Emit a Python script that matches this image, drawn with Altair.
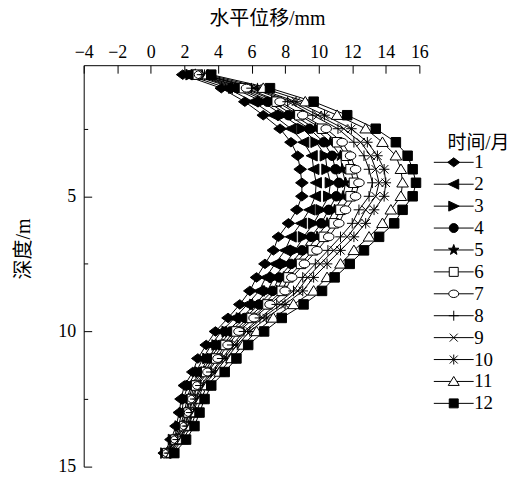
import altair as alt
import pandas as pd

depths = [0.5, 1.0, 1.5, 2.0, 2.5, 3.0, 3.5, 4.0, 4.5, 5.0, 5.5, 6.0, 6.5, 7.0, 7.5,
          8.0, 8.5, 9.0, 9.5, 10.0, 10.5, 11.0, 11.5, 12.0, 12.5, 13.0, 13.5, 14.0, 14.5]

m1 = [1.9, 4.2, 5.6, 6.7, 7.7, 8.35, 8.75, 8.9, 9.0, 9.0, 8.7, 8.2, 7.6, 7.3, 6.8,
      6.3, 5.9, 5.3, 4.6, 3.85, 3.3, 2.8, 2.5, 2.0, 1.8, 1.7, 1.5, 1.2, 0.8]
m2 = [2.15, 4.55, 6.1, 7.3, 8.35, 9.1, 9.6, 9.7, 9.85, 9.8, 9.45, 8.95, 8.35, 8.0, 7.4,
      6.85, 6.45, 5.75, 5.0, 4.2, 3.6, 3.1, 2.7, 2.2, 1.95, 1.85, 1.65, 1.3, 0.85]
m3 = [2.4, 4.95, 6.65, 7.85, 9.05, 9.85, 10.4, 10.5, 10.7, 10.6, 10.15, 9.7, 9.1, 8.6, 8.0,
      7.35, 6.95, 6.2, 5.4, 4.55, 3.95, 3.4, 2.95, 2.4, 2.15, 2.0, 1.75, 1.35, 0.9]
m4 = [2.55, 5.15, 6.95, 8.2, 9.45, 10.3, 10.8, 11.0, 11.2, 11.05, 10.6, 10.15, 9.55, 9.0, 8.35,
      7.65, 7.25, 6.45, 5.6, 4.75, 4.1, 3.55, 3.05, 2.5, 2.25, 2.1, 1.85, 1.4, 0.95]
m5 = [2.65, 5.35, 7.2, 8.5, 9.8, 10.7, 11.3, 11.4, 11.6, 11.45, 10.95, 10.5, 9.9, 9.3, 8.6,
      7.9, 7.5, 6.7, 5.8, 4.95, 4.3, 3.7, 3.2, 2.6, 2.35, 2.15, 1.9, 1.45, 0.97]
m6 = [2.8, 5.55, 7.5, 8.85, 10.2, 11.1, 11.65, 11.9, 12.1, 11.9, 11.3, 10.9, 10.3, 9.65, 8.95,
      8.2, 7.8, 6.95, 6.0, 5.1, 4.45, 3.9, 3.3, 2.7, 2.45, 2.25, 2.0, 1.48, 0.99]
m7 = [2.9, 5.7, 7.7, 9.05, 10.45, 11.4, 11.9, 12.2, 12.4, 12.2, 11.6, 11.2, 10.6, 9.9, 9.15,
      8.4, 8.0, 7.1, 6.15, 5.25, 4.6, 4.0, 3.4, 2.8, 2.5, 2.3, 2.05, 1.5, 1.0]
m8 = [3.05, 6.0, 8.15, 9.65, 11.15, 12.1, 12.7, 13.0, 13.2, 13.0, 12.4, 12.0, 11.3, 10.55, 9.8,
      9.05, 8.5, 7.5, 6.5, 5.55, 4.85, 4.25, 3.6, 2.95, 2.65, 2.4, 2.15, 1.6, 1.08]
m9 = [3.1, 6.15, 8.4, 9.95, 11.5, 12.5, 13.1, 13.4, 13.6, 13.4, 12.8, 12.35, 11.7, 10.9, 10.1,
      9.35, 8.75, 7.75, 6.65, 5.7, 5.0, 4.35, 3.7, 3.05, 2.7, 2.5, 2.2, 1.65, 1.12]
m10 = [3.2, 6.35, 8.65, 10.35, 11.95, 12.9, 13.5, 13.9, 14.0, 13.9, 13.3, 12.8, 12.1, 11.3, 10.5,
       9.7, 9.05, 8.0, 6.9, 5.9, 5.15, 4.5, 3.85, 3.15, 2.8, 2.55, 2.25, 1.75, 1.18]
m11 = [3.4, 6.7, 9.2, 11.1, 12.8, 13.8, 14.6, 14.9, 15.0, 14.9, 14.3, 13.8, 13.0, 12.1, 11.3,
       10.5, 9.7, 8.5, 7.3, 6.3, 5.5, 4.8, 4.1, 3.35, 3.0, 2.7, 2.4, 1.9, 1.25]
m12 = [3.6, 7.1, 9.7, 11.7, 13.4, 14.6, 15.3, 15.6, 15.8, 15.6, 15.0, 14.5, 13.6, 12.7, 11.85,
       10.95, 10.2, 9.1, 7.8, 6.75, 5.8, 5.1, 4.4, 3.6, 3.2, 2.9, 2.6, 2.1, 1.4]

months = [str(i) for i in range(1, 13)]
series = [m1, m2, m3, m4, m5, m6, m7, m8, m9, m10, m11, m12]

x_ticks = [-4, -2, 0, 2, 4, 6, 8, 10, 12, 14, 16]
y_ticks = [5, 10, 15]
y_minor = [2.5, 7.5, 12.5]

rows = []
for mo, vals in zip(months, series):
    for d, v in zip(depths, vals):
        rows.append({"month": mo, "depth": d, "disp": v})
df = pd.DataFrame(rows)

star = "M0,-1.1L0.26,-0.36L1.05,-0.34L0.42,0.14L0.65,0.89L0,0.44L-0.65,0.89L-0.42,0.14L-1.05,-0.34L-0.26,-0.36Z"
marker_paths = [
    "M-1.2,0L0,-0.9L1.2,0L0,0.9Z",
    "M-1.1,0L1,-1L1,1Z",
    "M1.1,0L-1,-1L-1,1Z",
    "M0.9,0A0.9,0.9 0 1,1 -0.9,0A0.9,0.9 0 1,1 0.9,0Z",
    star,
    "M-0.9,-0.9H0.9V0.9H-0.9Z",
    "M1,0A1,0.75 0 1,1 -1,0A1,0.75 0 1,1 1,0Z",
    "M-1,0H1M0,-1V1",
    "M-0.8,-0.8L0.8,0.8M-0.8,0.8L0.8,-0.8",
    "M-0.8,-0.8L0.8,0.8M-0.8,0.8L0.8,-0.8M0,-1V1M-1,0H1",
    "M0,-1L1.1,0.8H-1.1Z",
    "M-0.9,-0.9H0.9V0.9H-0.9Z",
]
legend_paths = [
    "M-4,0H4" + marker_paths[0],
    "M-4,0H4" + marker_paths[1],
    "M-4,0H4" + marker_paths[2],
    "M-4,0H4" + marker_paths[3],
    "M-4,0H4" + marker_paths[4],
    "M-4,0H-0.9M0.9,0H4" + marker_paths[5],
    "M-4,0H-1M1,0H4" + marker_paths[6],
    "M-4,0H4" + marker_paths[7],
    "M-4,0H4" + marker_paths[8],
    "M-4,0H4" + marker_paths[9],
    "M-4,0H-0.62M0.62,0H4" + marker_paths[10],
    "M-4,0H4" + marker_paths[11],
]
fills = ["black", "black", "black", "black", "black", "white", "white",
         "white", "white", "white", "white", "black"]
strokes = ["black"] * 12

serif = "'Liberation Serif', 'Noto Sans CJK SC', serif"

xs = alt.Scale(domain=[-4, 16], nice=False, zero=False)
ys = alt.Scale(domain=[0.15, 15], nice=False, zero=False, reverse=True)

base = alt.Chart(df)

lines = base.mark_line(color="black", strokeWidth=1).encode(
    x=alt.X("disp:Q", scale=xs, axis=alt.Axis(
        orient="top", values=x_ticks, ticks=False, tickSize=0, labelPadding=4,
        labelFlush=False, labelOverlap=False,
        title="水平位移/mm", titleX=184, titleY=-47, titleBaseline="middle",
        titleAlign="center", grid=False)),
    y=alt.Y("depth:Q", scale=ys, axis=alt.Axis(
        orient="left", values=y_ticks, ticks=False, tickSize=0, labelPadding=8,
        labelFlush=False, labelOverlap=False,
        title="深度/m", titleX=-60, titleY=184, titleBaseline="middle",
        titleAlign="center", grid=False)),
    detail="month:N",
    order="depth:Q",
)

points = base.mark_point(filled=True, stroke="black", strokeWidth=1, size=112, opacity=1).encode(
    x=alt.X("disp:Q", scale=xs, axis=alt.Axis(
        orient="top", values=x_ticks, labels=False, domain=False, ticks=True,
        tickSize=8, offset=-8, title=None, grid=False)),
    y=alt.Y("depth:Q", scale=ys, axis=alt.Axis(
        orient="left", values=y_ticks, labels=False, domain=False, ticks=True,
        tickSize=8, offset=-8, title=None, grid=False)),
    shape=alt.Shape("month:N", sort=months,
                    scale=alt.Scale(domain=months, range=marker_paths), legend=None),
    fill=alt.Fill("month:N", sort=months,
                  scale=alt.Scale(domain=months, range=fills), legend=None),
)

leg = alt.Legend(title="\u200c\u00a0\u00a0\u00a0时间/月", orient="none", legendX=351, legendY=69,
                 titleFont=serif, titleFontSize=19, titleFontWeight="normal",
                 titleColor="black", titlePadding=0,
                 labelFont=serif, labelFontSize=19, labelColor="black",
                 symbolSize=100, symbolOffset=11, labelOffset=11,
                 symbolStrokeWidth=1, symbolOpacity=1,
                 rowPadding=2)

legend_layer = base.mark_point(filled=True, strokeWidth=1, size=100, opacity=0).encode(
    x=alt.X("disp:Q", scale=xs, axis=None),
    y=alt.Y("depth:Q", scale=ys, axis=alt.Axis(
        orient="left", values=y_minor, labels=False, domain=False, ticks=True,
        tickSize=4, offset=-4, title=None, grid=False)),
    shape=alt.Shape("month:N", sort=months,
                    scale=alt.Scale(domain=months, range=legend_paths), legend=leg),
    fill=alt.Fill("month:N", sort=months,
                  scale=alt.Scale(domain=months, range=fills), legend=leg),
    stroke=alt.Stroke("month:N", sort=months,
                      scale=alt.Scale(domain=months, range=strokes), legend=leg),
)

chart = alt.layer(lines, points, legend_layer).resolve_scale(
    shape="independent", fill="independent", stroke="independent"
).resolve_axis(
    x="independent", y="independent"
).properties(
    width=337, height=403,
    autosize=alt.AutoSizeParams(type="none"),
    padding={"left": 76, "top": 56.5, "right": 95, "bottom": 9},
).configure_view(stroke="transparent").configure_axis(
    labelFont=serif, labelFontSize=18, labelColor="black",
    titleFont=serif, titleFontSize=20, titleFontWeight="normal", titleColor="black",
    domainColor="black", domainWidth=1, tickColor="black", tickWidth=1,
)

chart.save("out.html", embed_options={"renderer": "svg", "actions": False})
